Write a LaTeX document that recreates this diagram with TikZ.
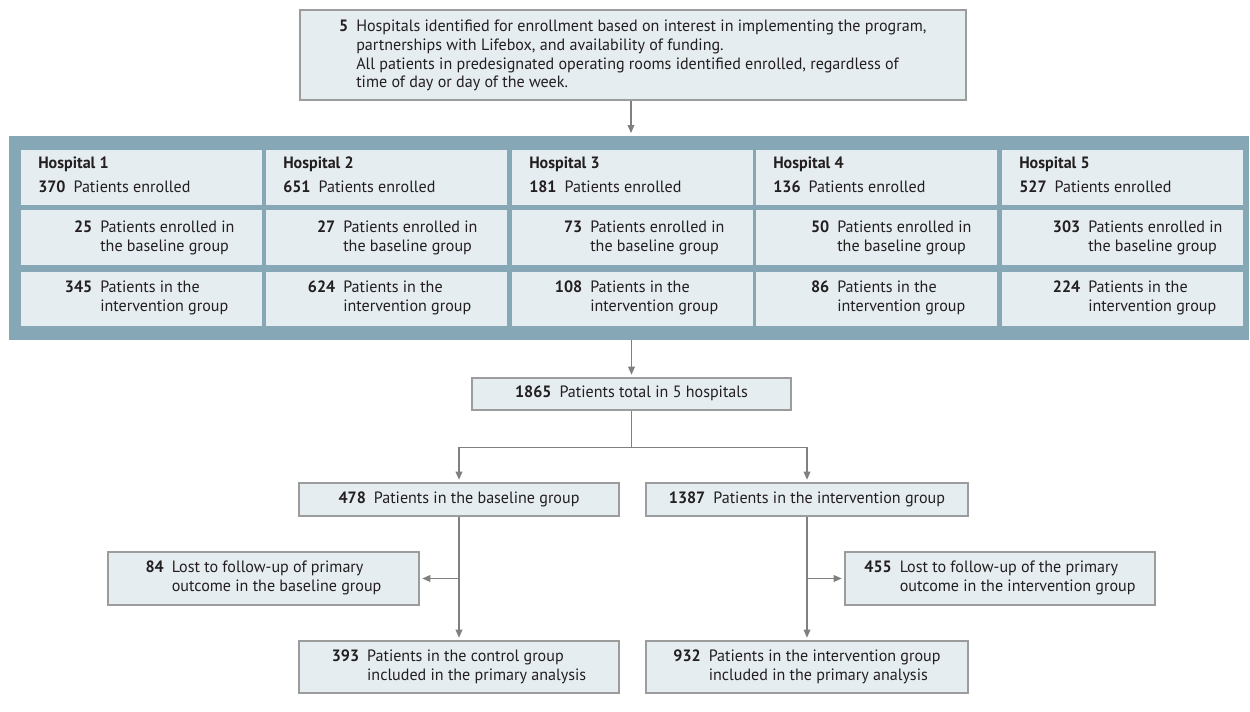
\documentclass[tikz,border=0pt]{standalone}
\usepackage{fontspec}
\setmainfont[FakeStretch=0.98]{PT Sans}
\usetikzlibrary{fit,arrows.meta,calc}
\definecolor{bandc}{HTML}{86A8B6}
\definecolor{cellc}{HTML}{E6EDF1}
\definecolor{bordc}{HTML}{9C9C9C}
\definecolor{arrc}{HTML}{808080}
\definecolor{txtc}{HTML}{231F20}
\tikzset{
 box/.style={draw=bordc, line width=0.9pt, fill=cellc, inner sep=0pt},
 cell/.style={fill=cellc, inner sep=0pt},
 bandbox/.style={fill=bandc, inner sep=0pt},
 conn/.style={draw=arrc, line width=0.9pt},
 arr/.style={conn, -{Triangle[length=6pt,width=5pt]}, shorten >=2pt},
 txt/.style={inner sep=0pt, text=txtc, font=\fontsize{12.3pt}{14pt}\selectfont},
}
\newcommand{\nb}[1]{\llap{\textbf{#1}\hspace{6pt}}}
\begin{document}
\begin{tikzpicture}[x=0.75pt,y=-0.75pt]
\fill[white] (0,0) rectangle (1250,711);
\useasboundingbox (0,0) rectangle (1250,711);
% top box
\node[box, fit={(300,10)(966,100)}] (top) {};
\node[txt, anchor=west] (toptxt) at (356,56) {\begin{tabular}{@{}l@{}}\nb{5}Hospitals identified for enrollment based on interest in implementing the program,\\partnerships with Lifebox, and availability of funding.\\All patients in predesignated operating rooms identified enrolled, regardless of\\time of day or day of the week.\end{tabular}};
% band
\node[bandbox, fit={(9,136)(1249,340)}] (band) {};
\foreach \i/\L/\off/\n/\b/\v in {1/21/79/370/25/345, 2/266/77/651/27/624, 3/512/78/181/73/108, 4/756/81/136/50/86, 5/1002/86/527/303/224}{
  \node[cell, fit={(\L,150)(\L+241,205)}] (ha\i) {};
  \node[cell, fit={(\L,210)(\L+241,265)}] (hb\i) {};
  \node[cell, fit={(\L,272)(\L+241,326)}] (hc\i) {};
  \node[txt, anchor=west] (ta\i) at (\L+17,177) {\begin{tabular}{@{}l@{}}\textbf{Hospital \i}\\[4pt]\textbf{\n}\hspace{6pt}Patients enrolled\end{tabular}};
  \node[txt, anchor=west] (tb\i) at (\L+\off,238) {\begin{tabular}{@{}l@{}}\nb{\b}Patients enrolled in\\the baseline group\end{tabular}};
  \node[txt, anchor=west] (tc\i) at (\L+\off,298.5) {\begin{tabular}{@{}l@{}}\nb{\v}Patients in the\\intervention group\end{tabular}};
}
% lower boxes
\node[box, fit={(472,378)(791,410)}] (tot) {};
\node[txt] (tottxt) at (tot.center) {\begin{tabular}{@{}r@{\hspace{6pt}}l@{}}\textbf{1865} & Patients total in 5 hospitals\end{tabular}};
\node[box, fit={(299,483)(619,516)}] (b478) {};
\node[txt] (b478txt) at (b478.center) {\begin{tabular}{@{}r@{\hspace{6pt}}l@{}}\textbf{478} & Patients in the baseline group\end{tabular}};
\node[box, fit={(646,483)(968,516)}] (b1387) {};
\node[txt] (b1387txt) at (b1387.center) {\begin{tabular}{@{}r@{\hspace{6pt}}l@{}}\textbf{1387} & Patients in the intervention group\end{tabular}};
\node[box, fit={(108,552)(419,605)}] (l84) {};
\node[txt] (l84txt) at (l84.center) {\begin{tabular}{@{}r@{\hspace{6pt}}l@{}}\textbf{84} & Lost to follow-up of primary\\ & outcome in the baseline group\end{tabular}};
\node[box, fit={(845,552)(1155,605)}] (l455) {};
\node[txt] (l455txt) at (l455.center) {\begin{tabular}{@{}r@{\hspace{6pt}}l@{}}\textbf{455} & Lost to follow-up of the primary\\ & outcome in the intervention group\end{tabular}};
\node[box, fit={(299,641)(619,693)}] (b393) {};
\node[txt] (b393txt) at (b393.center) {\begin{tabular}{@{}r@{\hspace{6pt}}l@{}}\textbf{393} & Patients in the control group\\ & included in the primary analysis\end{tabular}};
\node[box, fit={(646,641)(968,693)}] (b932) {};
\node[txt] (b932txt) at (b932.center) {\begin{tabular}{@{}r@{\hspace{6pt}}l@{}}\textbf{932} & Patients in the intervention group\\ & included in the primary analysis\end{tabular}};
% connectors
\draw[arr] (top.south -| 631,0) -- (band.north -| 631,0);
\draw[arr] (band.south -| tot.north) -- (tot.north);
\path (tot.south) ++(0,37) coordinate (split);
\draw[conn] (tot.south) -- (split);
\draw[arr] (split) -| (b478.north);
\draw[arr] (split) -| (b1387.north);
\draw[arr] (b478.south) -- (b393.north);
\draw[arr] (b478.south |- l84.east) -- (l84.east);
\draw[arr] (b1387.south) -- (b932.north);
\draw[arr] (b1387.south |- l455.west) -- (l455.west);
\end{tikzpicture}
\end{document}
